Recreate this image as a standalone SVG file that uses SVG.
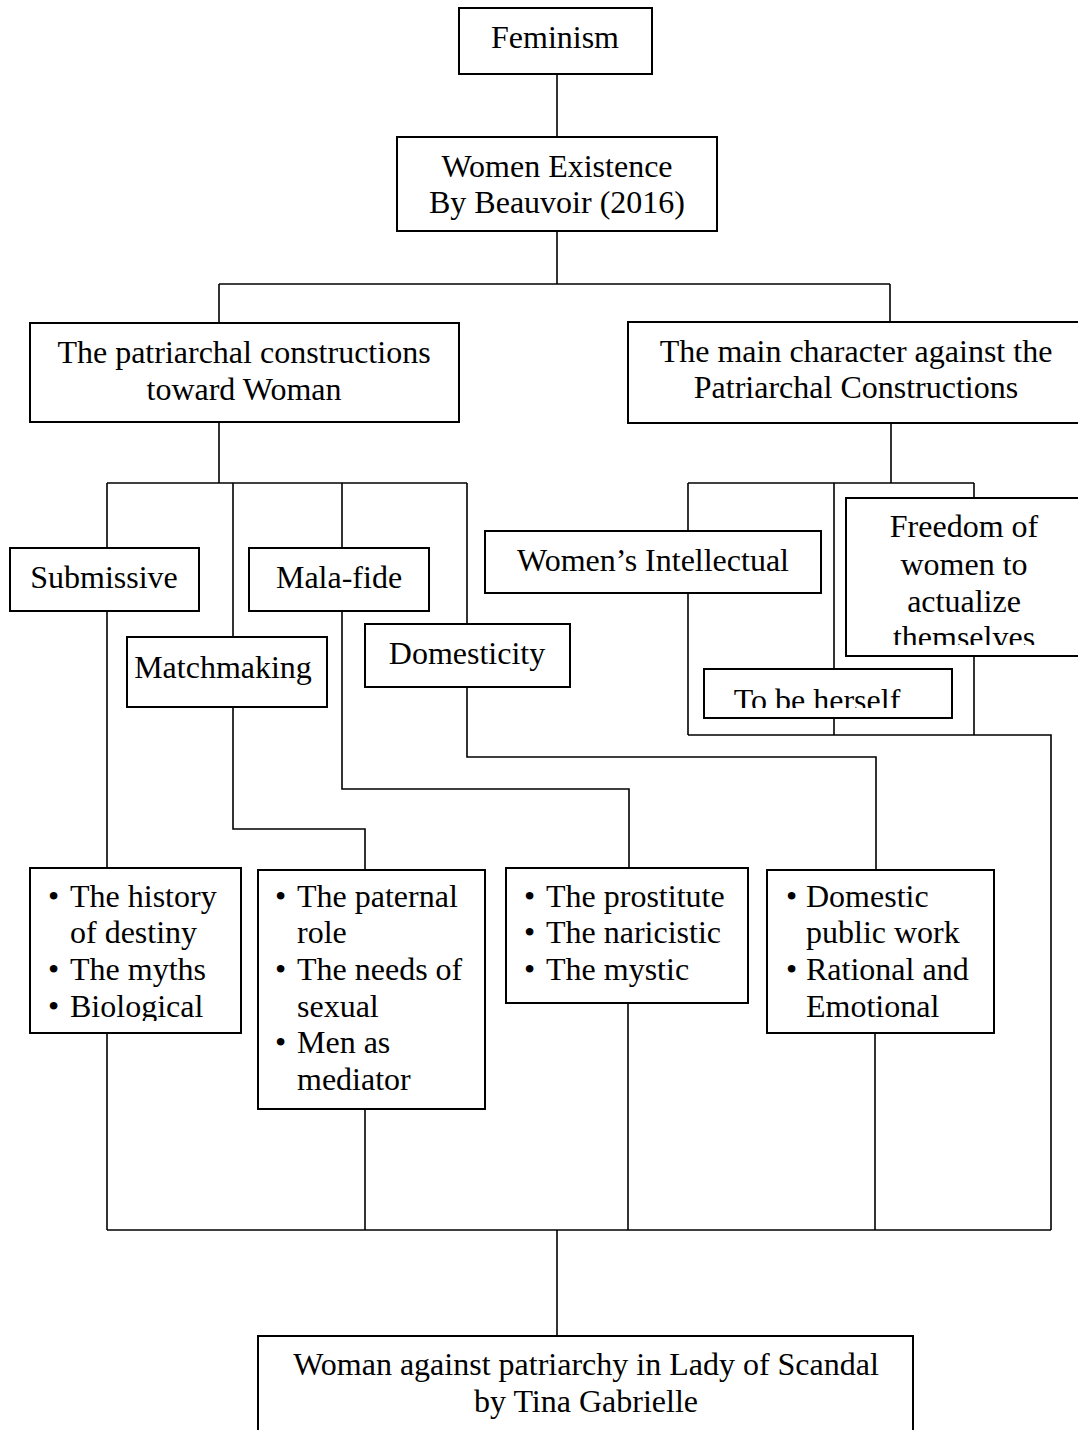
<svg xmlns="http://www.w3.org/2000/svg" width="1078" height="1430" viewBox="0 0 1078 1430">
<style>
  .box { fill: #fff; stroke: #000; stroke-width: 2; }
  .c { fill: none; stroke: #000; stroke-width: 1.6; }
  text { font-family: "Liberation Serif", "Times New Roman", serif; font-size: 32px; fill: #000; }
  .m { text-anchor: middle; }
</style>
<defs>
  <clipPath id="clipFree"><rect x="846" y="498" width="240" height="147"/></clipPath>
  <clipPath id="clipHer"><rect x="704" y="669" width="248" height="39"/></clipPath>
  <clipPath id="clipB1"><rect x="30" y="868" width="211" height="153"/></clipPath>
</defs>
<rect width="1078" height="1430" fill="#fff"/>
<g id="connectors">
  <path class="c" d="M557 74 V136"/>
  <path class="c" d="M557 231 V284"/>
  <path class="c" d="M219 284 H890"/>
  <path class="c" d="M219 284 V323"/>
  <path class="c" d="M890 284 V322"/>
  <path class="c" d="M219 422 V483"/>
  <path class="c" d="M107 483 H467"/>
  <path class="c" d="M107 483 V548"/>
  <path class="c" d="M233 483 V637"/>
  <path class="c" d="M342 483 V548"/>
  <path class="c" d="M467 483 V624"/>
  <path class="c" d="M891 423 V483"/>
  <path class="c" d="M688 483 H974"/>
  <path class="c" d="M688 483 V531"/>
  <path class="c" d="M834 483 V669"/>
  <path class="c" d="M974 483 V498"/>
  <path class="c" d="M107 611 V868"/>
  <path class="c" d="M233 707 V829 H365 V870"/>
  <path class="c" d="M342 611 V789 H629 V868"/>
  <path class="c" d="M467 687 V757 H876 V870"/>
  <path class="c" d="M688 593 V735"/>
  <path class="c" d="M834 718 V735"/>
  <path class="c" d="M974 656 V735"/>
  <path class="c" d="M688 735 H1051 V1230"/>
  <path class="c" d="M107 1033 V1230"/>
  <path class="c" d="M365 1109 V1230"/>
  <path class="c" d="M628 1003 V1230"/>
  <path class="c" d="M875 1033 V1230"/>
  <path class="c" d="M107 1230 H1051"/>
  <path class="c" d="M557 1230 V1336"/>
</g>
<g id="feminism">
  <rect class="box" x="459" y="8" width="193" height="66"/>
  <text class="m" x="555" y="48">Feminism</text>
</g>
<g id="women-existence">
  <rect class="box" x="397" y="137" width="320" height="94"/>
  <text class="m" x="557" y="177">Women Existence</text>
  <text class="m" x="557" y="213">By Beauvoir (2016)</text>
</g>
<g id="patriarchal-constructions">
  <rect class="box" x="30" y="323" width="429" height="99"/>
  <text class="m" x="244" y="363">The patriarchal constructions</text>
  <text class="m" x="244" y="400">toward Woman</text>
</g>
<g id="main-character">
  <rect class="box" x="628" y="322" width="460" height="101"/>
  <text class="m" x="856" y="362">The main character against the</text>
  <text class="m" x="856" y="398">Patriarchal Constructions</text>
</g>
<g id="submissive">
  <rect class="box" x="10" y="548" width="189" height="63"/>
  <text class="m" x="104" y="588">Submissive</text>
</g>
<g id="mala-fide">
  <rect class="box" x="249" y="548" width="180" height="63"/>
  <text class="m" x="339" y="588">Mala-fide</text>
</g>
<g id="matchmaking">
  <rect class="box" x="127" y="637" width="200" height="70"/>
  <text class="m" x="223" y="678">Matchmaking</text>
</g>
<g id="domesticity">
  <rect class="box" x="365" y="624" width="205" height="63"/>
  <text class="m" x="467" y="664">Domesticity</text>
</g>
<g id="womens-intellectual">
  <rect class="box" x="485" y="531" width="336" height="62"/>
  <text class="m" x="653" y="571">Women’s Intellectual</text>
</g>
<g id="freedom">
  <rect class="box" x="846" y="498" width="240" height="158"/>
  <g clip-path="url(#clipFree)">
    <text class="m" x="964" y="537">Freedom of</text>
    <text class="m" x="964" y="575">women to</text>
    <text class="m" x="964" y="612">actualize</text>
    <text class="m" x="964" y="648">themselves</text>
  </g>
</g>
<g id="to-be-herself">
  <rect class="box" x="704" y="669" width="248" height="49"/>
  <g clip-path="url(#clipHer)">
    <text class="m" x="817" y="711">To be herself</text>
  </g>
</g>
<g id="list-1">
  <rect class="box" x="30" y="868" width="211" height="165"/>
  <g clip-path="url(#clipB1)">
    <text x="48" y="907">•</text><text x="70" y="907">The history</text>
    <text x="70" y="943">of destiny</text>
    <text x="48" y="980">•</text><text x="70" y="980">The myths</text>
    <text x="48" y="1017">•</text><text x="70" y="1017">Biological</text>
  </g>
</g>
<g id="list-2">
  <rect class="box" x="258" y="870" width="227" height="239"/>
  <text x="275" y="907">•</text><text x="297" y="907">The paternal</text>
  <text x="297" y="943">role</text>
  <text x="275" y="980">•</text><text x="297" y="980">The needs of</text>
  <text x="297" y="1017">sexual</text>
  <text x="275" y="1053">•</text><text x="297" y="1053">Men as</text>
  <text x="297" y="1090">mediator</text>
</g>
<g id="list-3">
  <rect class="box" x="506" y="868" width="242" height="135"/>
  <text x="524" y="907">•</text><text x="546" y="907">The prostitute</text>
  <text x="524" y="943">•</text><text x="546" y="943">The naricistic</text>
  <text x="524" y="980">•</text><text x="546" y="980">The mystic</text>
</g>
<g id="list-4">
  <rect class="box" x="767" y="870" width="227" height="163"/>
  <text x="786" y="907">•</text><text x="806" y="907">Domestic</text>
  <text x="806" y="943">public work</text>
  <text x="786" y="980">•</text><text x="806" y="980">Rational and</text>
  <text x="806" y="1017">Emotional</text>
</g>
<g id="woman-against-patriarchy">
  <rect class="box" x="258" y="1336" width="655" height="110"/>
  <text class="m" x="586" y="1375">Woman against patriarchy in Lady of Scandal</text>
  <text class="m" x="586" y="1412">by Tina Gabrielle</text>
</g>
</svg>
